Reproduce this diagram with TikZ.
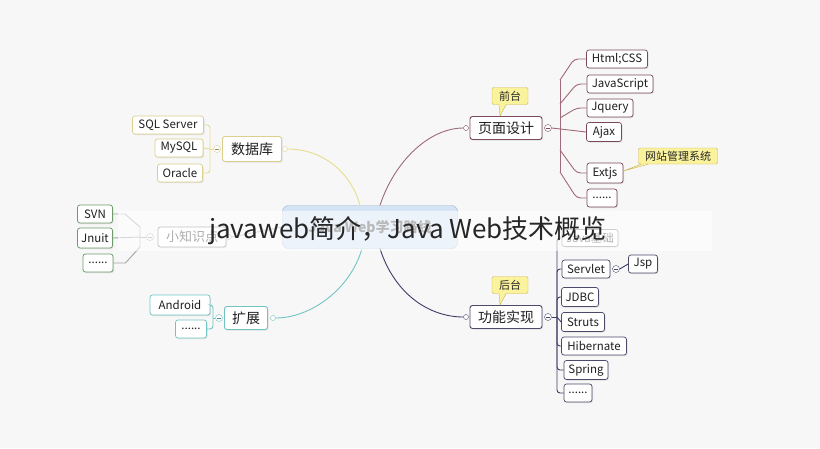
\documentclass[tikz,border=0pt]{standalone}
\usepackage{fontspec}
\setmainfont{Noto Sans CJK SC}
\usetikzlibrary{shadows}
\definecolor{bg}{HTML}{F7F7F7}
\definecolor{cY}{HTML}{DCD08C}
\definecolor{lY}{HTML}{E6DE8E}
\definecolor{cG}{HTML}{6C9C6C}
\definecolor{cGr}{HTML}{8C8C8C}
\definecolor{cC}{HTML}{72C4C4}
\definecolor{cP}{HTML}{7A4A5A}
\definecolor{lP}{HTML}{A06A78}
\definecolor{cN}{HTML}{4A4A6A}
\definecolor{lN}{HTML}{3C3C68}
\definecolor{qF}{HTML}{FBF29C}
\definecolor{qB}{HTML}{C9B458}
\definecolor{cenF}{HTML}{D4E4F4}
\definecolor{cenB}{HTML}{9AB4CC}
\begin{document}
\begin{tikzpicture}[x=1pt,y=-1pt,
  box/.style={draw, rounded corners=2.5pt, fill=white, inner sep=0pt, text=black!88, line width=0.7pt,
    drop shadow={opacity=0.2, shadow xshift=1pt, shadow yshift=-1pt}},
  leaf/.style={box, font=\fontsize{11.5}{11.5}\selectfont, minimum height=18pt},
  mainn/.style={box, font=\fontsize{14}{14}\selectfont, minimum height=23pt, line width=0.9pt},
  knob/.style={circle, draw, fill=white, inner sep=0pt, minimum size=7pt},
  dot/.style={circle, draw, fill=white, inner sep=0pt, minimum size=5pt},
  callout/.style={draw=qB, fill=qF, rounded corners=2pt, inner sep=0pt, text=black!85,
    font=\fontsize{11}{11}\selectfont, minimum height=17pt},
  lnk/.style={line width=0.9pt}
]
\fill[bg] (0,0) rectangle (820,448);
\useasboundingbox (0,0) rectangle (820,448);

% ---------- centre ----------
\node[draw=cenB, fill=cenF, rounded corners=6pt, minimum width=175pt, minimum height=43pt,
  text=black!65, font=\fontsize{14}{14}\selectfont\bfseries] (cen) at (370,227) {Java Web学习路线};

% ---------- 数据库 ----------
\node[mainn, draw=cY, minimum width=59pt, minimum height=25pt] (db) at (252,149) {数据库};
\node[dot, draw=cY] (dbr) at (285,149) {};
\node[knob, draw=cY] (dbk) at (217,149) {};
\draw[cY!70!black, line width=0.8pt] ([xshift=1.5pt]dbk.west) -- ([xshift=-1.5pt]dbk.east);
\node[leaf, draw=cY, minimum width=71pt] (sql) at (168,125) {SQL Server};
\node[leaf, draw=cY, minimum width=48pt] (mys) at (179,148) {MySQL};
\node[leaf, draw=cY, minimum width=45pt] (ora) at (180,173) {Oracle};
\coordinate (dbt) at (210,149);
\draw[lY, lnk] (dbk.west) -- (dbt);
\draw[lY, lnk, rounded corners=3pt] (dbt) |- (sql.east);
\draw[lY, lnk] (dbt) -- (mys.east);
\draw[lY, lnk, rounded corners=3pt] (dbt) |- (ora.east);
\draw[lY, lnk] ([xshift=-10pt]cen.north) .. controls (352,175) and (325,149) .. (dbr.east);

% ---------- 小知识点 ----------
\node[box, draw=cGr!80!black, minimum width=68pt, minimum height=20pt, font=\fontsize{13}{13}\selectfont, text=black!75] (xz) at (192,237) {小知识点};
\node[dot, draw=cGr] (xzr) at (229,237) {};
\node[knob, draw=cGr] (xzk) at (150,237) {};
\draw[cGr, line width=0.8pt] ([xshift=1.5pt]xzk.west) -- ([xshift=-1.5pt]xzk.east);
\draw[cGr!70, lnk] (cen.west) -- (xzr.east);
\node[leaf, draw=cG, minimum width=35pt, line width=0.8pt] (svn) at (95,214) {SVN};
\node[leaf, draw=cG, minimum width=35pt, minimum height=20pt, line width=0.8pt] (jn) at (95,238) {Jnuit};
\node[leaf, draw=cG, minimum width=30pt, line width=0.8pt] (xd) at (98,263) {......};
\coordinate (xt) at (140,237);
\draw[cGr!80, lnk] (xzk.west) -- (xt);
\draw[cGr!80, lnk] (xt) -- ++(0,-10) -- ([xshift=12pt]svn.east) -- (svn.east);
\draw[cGr!80, lnk] (xt) -- (jn.east);
\draw[cGr!80, lnk] (xt) -- ++(0,10) -- ([xshift=12pt]xd.east) -- (xd.east);

% ---------- 扩展 ----------
\node[mainn, draw=cC, minimum width=43pt] (kz) at (246,318) {扩展};
\node[dot, draw=cC] (kzr) at (273,318) {};
\node[knob, draw=cC] (kzk) at (219,318) {};
\draw[cC!70!black, line width=0.8pt] ([xshift=1.5pt]kzk.west) -- ([xshift=-1.5pt]kzk.east);
\node[leaf, draw=cC, minimum width=60pt, minimum height=20pt] (and) at (180,305) {Android};
\node[leaf, draw=cC, minimum width=31pt] (kd) at (191,329) {......};
\coordinate (kt) at (213,318);
\draw[cC, lnk] (kzk.west) -- (kt);
\draw[cC, lnk, rounded corners=3pt] (kt) |- (and.east);
\draw[cC, lnk, rounded corners=3pt] (kt) |- (kd.east);
\draw[cC, lnk] ([xshift=-8pt]cen.south) .. controls (350,290) and (310,318) .. (kzr.east);

% ---------- 页面设计 ----------
\node[mainn, draw=cP, minimum width=72pt] (pd) at (506,128) {页面设计};
\node[dot, draw=cP] (pdl) at (466,128) {};
\node[knob, draw=cP] (pdk) at (548,128) {};
\draw[cP, line width=0.8pt] ([xshift=1.5pt]pdk.west) -- ([xshift=-1.5pt]pdk.east);
\draw[lP, lnk] ([xshift=10pt]cen.north) .. controls (395,160) and (430,128) .. (pdl.west);
\node[callout, minimum width=36pt] (qt) at (510,96) {前台};
\fill[qF] ([xshift=-11pt,yshift=0.6pt]qt.south) -- ([xshift=-4pt,yshift=0.6pt]qt.south) -- ([xshift=-6pt]pd.north) -- cycle;
\draw[qB] ([xshift=-11pt]qt.south) -- ([xshift=-6pt]pd.north) -- ([xshift=-4pt]qt.south);

\node[leaf, draw=cP, minimum width=61pt] (html) at (617,59) {Html;CSS};
\node[leaf, draw=cP, minimum width=66pt] (js) at (620,84) {JavaScript};
\node[leaf, draw=cP, minimum width=46pt] (jq) at (610,108) {Jquery};
\node[leaf, draw=cP, minimum width=35pt, minimum height=19pt] (ajax) at (604,132) {Ajax};
\node[leaf, draw=cP, minimum width=36pt, minimum height=20pt] (ext) at (605,173) {Extjs};
\node[leaf, draw=cP, minimum width=30pt] (pdd) at (602,198) {......};
\node[callout, minimum width=79pt, minimum height=16pt] (wz) at (678,156) {网站管理系统};
\fill[qF] ([xshift=3pt,yshift=0.6pt]wz.south west) -- ([xshift=10pt,yshift=0.6pt]wz.south west) -- ([yshift=2pt]ext.east) -- cycle;
\draw[qB] ([xshift=3pt]wz.south west) -- ([yshift=2pt]ext.east) -- ([xshift=10pt]wz.south west);

\coordinate (p1) at (560,80);
\coordinate (p2) at (560,104);
\coordinate (p3) at (560,118);
\coordinate (p4) at (560,150);
\coordinate (p5) at (560,172);
\draw[lP, lnk] (p1) -- (p5);
\draw[lP, lnk] (pdk.east) -- (ajax.west);
\draw[lP, lnk, rounded corners=4pt] (p1) -- ([xshift=-12pt]html.west) -- (html.west);
\draw[lP, lnk, rounded corners=4pt] (p2) -- ([xshift=-10pt]js.west) -- (js.west);
\draw[lP, lnk, rounded corners=4pt] (p3) -- ([xshift=-10pt]jq.west) -- (jq.west);
\draw[lP, lnk, rounded corners=4pt] (p4) -- ([xshift=-10pt]ext.west) -- (ext.west);
\draw[lP, lnk, rounded corners=4pt] (p5) -- ([xshift=-10pt]pdd.west) -- (pdd.west);

% ---------- 功能实现 ----------
\node[mainn, draw=cN, minimum width=72pt] (gn) at (506,317) {功能实现};
\node[dot, draw=cN] (gnl) at (466,317) {};
\node[knob, draw=cN] (gnk) at (548,317) {};
\draw[cN, line width=0.8pt] ([xshift=1.5pt]gnk.west) -- ([xshift=-1.5pt]gnk.east);
\draw[lN, lnk] ([xshift=10pt]cen.south) .. controls (395,295) and (430,317) .. (gnl.west);
\node[callout, minimum width=36pt] (ht) at (510,285) {后台};
\fill[qF] ([xshift=-11pt,yshift=0.6pt]ht.south) -- ([xshift=-4pt,yshift=0.6pt]ht.south) -- ([xshift=-6pt]gn.north) -- cycle;
\draw[qB] ([xshift=-11pt]ht.south) -- ([xshift=-6pt]gn.north) -- ([xshift=-4pt]ht.south);

\node[leaf, draw=cGr, minimum width=56pt, minimum height=17pt, text=black!70] (jb) at (590,238) {Java基础};
\node[leaf, draw=cN, minimum width=48pt] (sv) at (586,269) {Servlet};
\node[knob, draw=cN] (svk) at (616,269) {};
\draw[cN, line width=0.8pt] ([xshift=1.5pt]svk.west) -- ([xshift=-1.5pt]svk.east);
\node[leaf, draw=cN, minimum width=29pt] (jsp) at (643,264) {Jsp};
\draw[lN, lnk] (svk.east) -- (jsp.west);
\node[leaf, draw=cN, minimum width=37pt, minimum height=19pt] (jdbc) at (580,297) {JDBC};
\node[leaf, draw=cN, minimum width=43pt, minimum height=19pt] (st) at (583,322) {Struts};
\node[leaf, draw=cN, minimum width=65pt] (hb) at (594,346) {Hibernate};
\node[leaf, draw=cN, minimum width=44pt, minimum height=19pt] (sp) at (586,370) {Spring};
\node[leaf, draw=cN, minimum width=28pt] (gd) at (578,393) {......};
\coordinate (gt) at (557,317);
\draw[lN, lnk] (gnk.east) -- (gt);
\draw[lN, lnk, rounded corners=3pt] (gt) |- (jb.west);
\draw[lN, lnk, rounded corners=3pt] (gt) |- (sv.west);
\draw[lN, lnk, rounded corners=3pt] (gt) |- (jdbc.west);
\draw[lN, lnk] (gt) -- (st.west);
\draw[lN, lnk, rounded corners=3pt] (gt) |- (hb.west);
\draw[lN, lnk, rounded corners=3pt] (gt) |- (sp.west);
\draw[lN, lnk, rounded corners=3pt] (gt) |- (gd.west);

% ---------- banner ----------
\fill[white, opacity=0.58] (118,211) rectangle (712,251);
\node[text=black!85, font=\fontsize{26}{26}\selectfont, inner sep=0pt] (ban) at (408,231) {javaweb简介，Java Web技术概览};
\end{tikzpicture}
\end{document}
